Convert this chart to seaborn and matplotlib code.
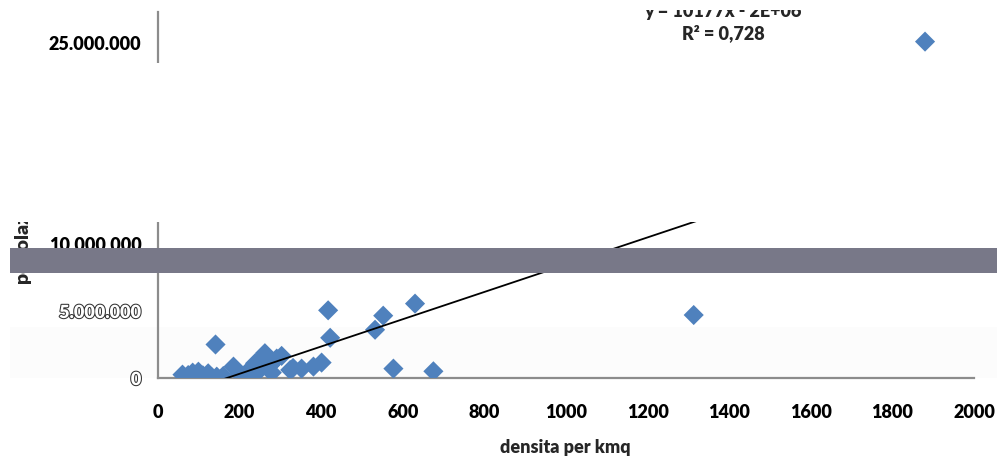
import numpy as np
import pandas as pd
import matplotlib
matplotlib.use("Agg")
import matplotlib.pyplot as plt
import matplotlib.patheffects as pe
from matplotlib.patches import Rectangle
import seaborn as sns

# ------------------------------------------------------------
# data (density per km2, population)
# ------------------------------------------------------------
densita = [60, 74, 85, 99, 110, 123, 132, 141, 144, 160,
           185, 200, 213, 217, 234, 238, 246, 250, 262, 275,
           279, 291, 303, 324, 331, 352, 381, 401, 417, 422,
           532, 552, 577, 630, 675, 1313, 1880]
popolazione = [0.25, 0.22, 0.40, 0.47, 0.20, 0.35, 0.05, 2.50, 0.10, 0.15,
               0.85, 0.30, 0.05, 0.40, 0.60, 1.10, 0.50, 1.30, 1.85, 0.95,
               0.40, 1.45, 1.65, 0.60, 0.75, 0.70, 0.85, 1.15, 5.05, 3.00,
               3.60, 4.65, 0.70, 5.55, 0.50, 4.70, 25.10]
popolazione = [v * 1e6 for v in popolazione]

# trendline as shown in the chart label
slope = 10177
intercept = -1.72e6
eq_text = "y = 10177x - 2E+06"
r2_text = "R² = 0,728"

x_ticks = list(range(0, 2001, 200))
y_ticks = [0, 5e6, 10e6, 15e6, 20e6, 25e6]

df = pd.DataFrame({"densita": densita, "popolazione": popolazione})

# ------------------------------------------------------------
# figure
# ------------------------------------------------------------
sns.set_style("white")
plt.rcParams["font.family"] = ["Lato", "DejaVu Sans"]
WEIGHT = "heavy"

W, H = 997, 459
fig = plt.figure(figsize=(W / 100, H / 100), dpi=100, facecolor="white")
ax = fig.add_axes([158 / W, 1 - 378 / H, (974 - 158) / W, (378 - 12) / H])
ax.set_facecolor("none")

sns.scatterplot(data=df, x="densita", y="popolazione", marker="D", s=105,
                color="#4F81BD", edgecolor="none", linewidth=0, ax=ax,
                zorder=3)

xs = np.array([min(densita), max(densita)])
ax.plot(xs, slope * xs + intercept, color="black", lw=1.3, zorder=4)

ax.set_xlim(0, 2000)
ax.set_ylim(0, 27.31e6)
ax.set_xticks(x_ticks)
ax.set_yticks(y_ticks)
ax.set_xticklabels([str(t) for t in x_ticks])
ax.set_yticklabels([f"{v:,.0f}".replace(",", ".") for v in y_ticks])

for s in ["top", "right"]:
    ax.spines[s].set_visible(False)
for s in ["left", "bottom"]:
    ax.spines[s].set_color("#8c8c8c")
    ax.spines[s].set_linewidth(1.6)

ax.tick_params(axis="both", colors="#8c8c8c", length=4, width=1.2,
               labelsize=13, labelcolor="black")
ax.tick_params(axis="y", pad=8)
ax.tick_params(axis="x", pad=15)
for lab in ax.get_yticklabels():
    lab.set_fontweight(WEIGHT)
    if lab.get_text() in ("0", "5.000.000"):
        lab.set_color("white")
        lab.set_path_effects([pe.withStroke(linewidth=1.5, foreground="#333333")])
for lab in ax.get_xticklabels():
    lab.set_fontweight(WEIGHT)

ax.set_xlabel("densita per kmq", fontsize=13, fontweight=WEIGHT)
ax.xaxis.set_label_coords((565 - 158) / 816, (378 - 447) / 366)
ax.xaxis.label.set_va("center")
ax.set_ylabel("")

fig.text(22 / W, 1 - 283 / H, "popolazione", rotation=90, ha="center",
         va="bottom", fontsize=14, fontweight=WEIGHT)

fig.text(723 / W, 1 - 12 / H, eq_text, ha="center", va="center",
         fontsize=13, fontweight=WEIGHT, zorder=3)
fig.text(723 / W, 1 - 33 / H, r2_text, ha="center", va="center",
         fontsize=13, fontweight=WEIGHT, zorder=3)

# very light band behind the lower part of the plot
fig.add_artist(Rectangle((10 / W, 1 - 378 / H), 1, 51 / H,
                         transform=fig.transFigure, facecolor="#fcfcfc",
                         edgecolor="none", zorder=-1))
# blanked-out regions of the original picture
fig.add_artist(Rectangle((0, 1 - 222 / H), 1, (222 - 63) / H,
                         transform=fig.transFigure, facecolor="white",
                         edgecolor="none", zorder=10))
fig.add_artist(Rectangle((0, 1 - 10 / H), 1, 10 / H,
                         transform=fig.transFigure, facecolor="white",
                         edgecolor="none", zorder=10))
# grey strip across the chart
fig.add_artist(Rectangle((10 / W, 1 - 273 / H), 1, 25 / H,
                         transform=fig.transFigure, facecolor="#787888",
                         edgecolor="none", zorder=11))

fig.savefig("out.png", dpi=100, facecolor="white")
